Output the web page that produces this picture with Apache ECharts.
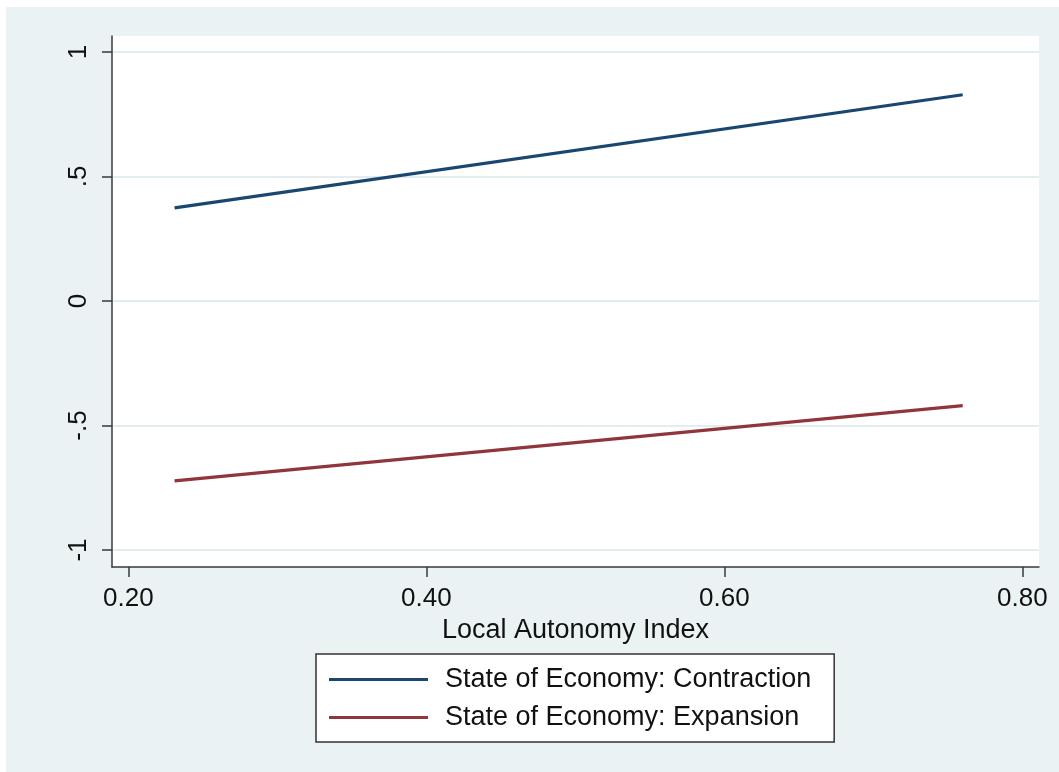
<!DOCTYPE html>
<html>
<head>
<meta charset="utf-8">
<title>Local Autonomy Index by State of Economy</title>
<script src="https://cdn.jsdelivr.net/npm/echarts@6/dist/echarts.min.js"></script>
<style>
  html, body { margin: 0; padding: 0; background: #ffffff; }
  #chart { width: 1059px; height: 772px; }
</style>
</head>
<body>
<div id="chart"></div>
<script>
// Predicted values across the local autonomy index
const autonomy = [0.231, 0.760];
const contraction = [0.374, 0.828];
const expansion = [-0.722, -0.420];

const seriesNames = ['State of Economy: Contraction', 'State of Economy: Expansion'];

const xTicks = [0.2, 0.4, 0.6, 0.8];
const xTickLabels = ['0.20', '0.40', '0.60', '0.80'];
const yTicks = [-1, -0.5, 0, 0.5, 1];
const yTickLabels = ['-1', '-.5', '0', '.5', '1'];

const FONT = "'Liberation Sans', Arial, Helvetica, sans-serif";
const AXIS_COLOR = '#3a3a3a';

const chart = echarts.init(document.getElementById('chart'), null, { renderer: 'canvas' });

function pairs(xs, ys) {
  return xs.map((x, i) => [x, ys[i]]);
}

chart.setOption({
  animation: false,
  backgroundColor: '#ffffff',
  graphic: [{
    type: 'rect',
    z: -10,
    silent: true,
    shape: { x: 6, y: 7, width: 1059, height: 772 },
    style: { fill: '#EAF2F3' }
  }],
  grid: {
    left: 112, top: 36, right: 20, bottom: 205,
    show: true, backgroundColor: '#ffffff', borderWidth: 0
  },
  xAxis: {
    type: 'value',
    min: 0.189, max: 0.8112,
    name: 'Local Autonomy Index',
    nameLocation: 'middle',
    nameGap: 46,
    nameTextStyle: { fontFamily: FONT, fontSize: 27, color: '#111' },
    axisLine: { show: true, onZero: false, lineStyle: { color: AXIS_COLOR, width: 1.5 } },
    axisTick: { show: true, inside: false, length: 10, customValues: xTicks,
      lineStyle: { color: AXIS_COLOR, width: 1.5 } },
    axisLabel: {
      customValues: xTicks,
      formatter: v => xTickLabels[xTicks.findIndex(t => Math.abs(t - v) < 1e-9)] ?? '',
      fontFamily: FONT, fontSize: 26, color: '#111', margin: 19
    },
    splitLine: { show: false }
  },
  yAxis: {
    type: 'value',
    min: -1.068, max: 1.064,
    axisLine: { show: true, onZero: false, lineStyle: { color: AXIS_COLOR, width: 1.5 } },
    axisTick: { show: true, inside: false, length: 10, customValues: yTicks,
      lineStyle: { color: AXIS_COLOR, width: 1.5 } },
    axisLabel: {
      customValues: yTicks,
      rotate: 90,
      formatter: v => yTickLabels[yTicks.findIndex(t => Math.abs(t - v) < 1e-9)] ?? '',
      fontFamily: FONT, fontSize: 26, color: '#111', margin: 20
    },
    splitLine: { show: true, lineStyle: { color: '#E3ECEF', width: 2 } }
  },
  legend: {
    orient: 'vertical',
    left: 316, top: 654,
    padding: [12, 23, 11, 13],
    itemGap: 11,
    itemWidth: 99,
    itemHeight: 3,
    icon: 'rect',
    backgroundColor: '#ffffff',
    borderColor: '#333333',
    borderWidth: 1.5,
    borderRadius: 0,
    textStyle: { fontFamily: FONT, fontSize: 27, color: '#111', padding: [0, 0, 0, 12] },
    data: seriesNames
  },
  series: [
    {
      name: seriesNames[0],
      type: 'line',
      symbol: 'none',
      data: pairs(autonomy, contraction),
      lineStyle: { color: '#1a476f', width: 3.2 },
      itemStyle: { color: '#1a476f' }
    },
    {
      name: seriesNames[1],
      type: 'line',
      symbol: 'none',
      data: pairs(autonomy, expansion),
      lineStyle: { color: '#90353b', width: 3.2 },
      itemStyle: { color: '#90353b' }
    }
  ]
});
</script>
</body>
</html>
